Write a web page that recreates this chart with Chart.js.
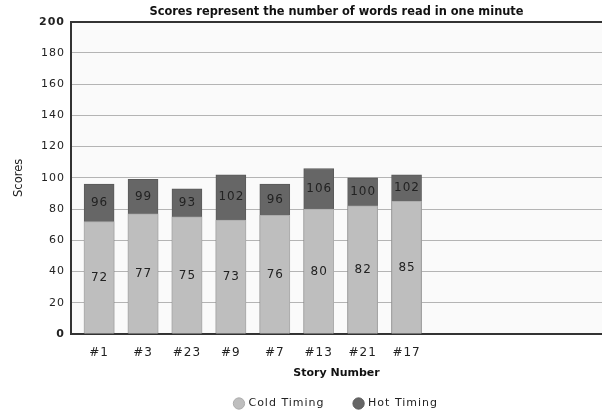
<!DOCTYPE html>
<html>
<head>
<meta charset="utf-8">
<script src="https://cdn.jsdelivr.net/npm/chart.js@4/dist/chart.umd.min.js"></script>
<style>
html,body{margin:0;padding:0;background:#fff;}
#wrap{width:602px;height:414px;}
</style>
</head>
<body>
<div id="wrap"><canvas id="c" width="602" height="414"></canvas></div>
<script>
const categories = ['#1', '#3', '#23', '#9', '#7', '#13', '#21', '#17'];
const coldTiming = [72, 77, 75, 73, 76, 80, 82, 85];
const hotTiming = [96, 99, 93, 102, 96, 106, 100, 102];
const yTicks = [0, 20, 40, 60, 80, 100, 120, 140, 160, 180, 200];

const FONT = "'DejaVu Sans', Verdana, sans-serif";

const bgPlugin = {
  id: 'bg',
  afterInit(chart) {
    const lg = chart.legend;
    if (lg) {
      ['fit', 'draw'].forEach(m => {
        const orig = lg[m].bind(lg);
        lg[m] = function (...a) {
          const c = chart.ctx;
          const prev = c.letterSpacing;
          c.letterSpacing = '1px';
          const r = orig(...a);
          c.letterSpacing = prev || '0px';
          return r;
        };
      });
    }
  },
  beforeDraw(chart) {
    const a = chart.chartArea, ctx = chart.ctx;
    ctx.letterSpacing = '0px';
    ctx.save();
    ctx.fillStyle = '#fafafa';
    ctx.fillRect(a.left, a.top, a.right - a.left, a.bottom - a.top);
    ctx.restore();
  },
  afterDraw(chart) {
    chart.ctx.letterSpacing = '0px';
  }
};

const labelPlugin = {
  id: 'vals',
  afterDatasetsDraw(chart) {
    const ctx = chart.ctx, xs = chart.scales.x, ys = chart.scales.y;
    ctx.letterSpacing = '1px';
    ctx.save();
    ctx.font = "12px " + FONT;
    ctx.fillStyle = '#222';
    ctx.textAlign = 'center';
    ctx.textBaseline = 'middle';
    categories.forEach((c, i) => {
      const x = xs.getPixelForValue(i) + 0.5;
      ctx.fillText(String(coldTiming[i]), x, ys.getPixelForValue(coldTiming[i] / 2));
      ctx.fillText(String(hotTiming[i]), x, ys.getPixelForValue((coldTiming[i] + hotTiming[i]) / 2));
    });
    ctx.restore();
  }
};

new Chart(document.getElementById('c'), {
  type: 'bar',
  data: {
    datasets: [
      {
        label: 'Cold Timing',
        data: coldTiming.map((v, i) => ({x: i, y: v})),
        backgroundColor: '#bebebe',
        borderColor: '#acacac',
        borderWidth: 1,
        barThickness: 30,
        grouped: false
      },
      {
        label: 'Hot Timing',
        data: hotTiming.map((v, i) => ({x: i, y: v})),
        backgroundColor: '#666666',
        borderColor: '#5a5a5a',
        borderWidth: 1,
        barThickness: 30,
        grouped: false
      }
    ]
  },
  options: {
    responsive: false,
    animation: false,
    devicePixelRatio: 1,
    layout: {padding: {left: 0, right: 0, top: 0, bottom: -5}},
    plugins: {
      title: {
        display: true,
        text: 'Scores represent the number of words read in one minute',
        fullSize: false,
        color: '#111',
        font: {family: FONT, size: 11.4, weight: 'bold'},
        padding: {top: 5, bottom: 3}
      },
      legend: {
        position: 'bottom',
        fullSize: false,
        labels: {
          usePointStyle: true,
          pointStyle: 'circle',
          boxWidth: 8,
          boxHeight: 8,
          padding: 30,
          color: '#222',
          font: {family: FONT, size: 11}
        }
      },
      tooltip: {enabled: false}
    },
    scales: {
      x: {
        type: 'linear',
        offset: false,
        min: -0.64,
        max: 11.45,
        afterBuildTicks(scale) {
          scale.ticks = categories.map((c, i) => ({value: i}));
        },
        afterFit(scale) { scale.height = 34; },
        ticks: {
          autoSkip: false,
          maxRotation: 0,
          padding: 12,
          z: 1,
          color: '#222',
          font: {family: FONT, size: 12},
          callback: (v) => categories[v] !== undefined ? categories[v] : ''
        },
        grid: {display: false, drawTicks: false},
        border: {display: true, color: '#333', width: 2},
        title: {
          display: true,
          text: 'Story Number',
          color: '#111',
          font: {family: FONT, size: 11, weight: 'bold'},
          padding: {top: 0, bottom: -11.6}
        }
      },
      y: {
        min: 0,
        max: 200,
        afterBuildTicks(scale) {
          scale.ticks = yTicks.map(v => ({value: v}));
        },
        afterFit(scale) { scale.width = 71; },
        ticks: {
          padding: 6,
          z: 1,
          color: '#222',
          font: (ctx) => ({family: FONT, size: 11, weight: (ctx.tick && (ctx.tick.value === 0 || ctx.tick.value === 200)) ? 'bold' : 'normal'})
        },
        grid: {
          color: (ctx) => (ctx.tick && ctx.tick.value === 200) ? '#333' : '#b4b4b4',
          lineWidth: (ctx) => (ctx.tick && ctx.tick.value === 200) ? 2 : 1,
          drawTicks: false
        },
        border: {display: true, color: '#333', width: 2},
        title: {
          display: true,
          text: 'Scores',
          color: '#222',
          font: {family: FONT, size: 11.5},
          padding: {top: 12, bottom: 4}
        }
      }
    }
  },
  plugins: [bgPlugin, labelPlugin]
});
</script>
</body>
</html>
